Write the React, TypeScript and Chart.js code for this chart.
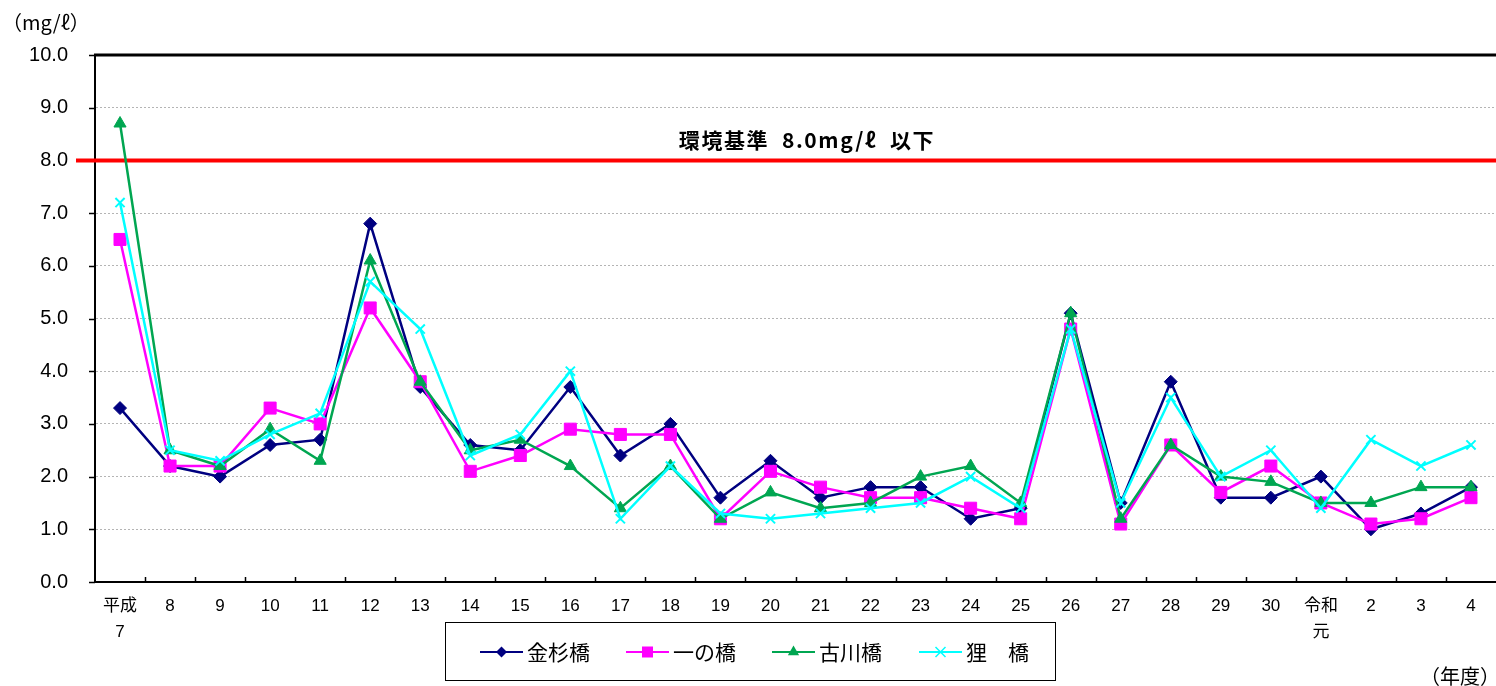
import React, { useEffect, useRef } from 'react';
import { Chart, registerables } from 'chart.js';

Chart.register(...registerables);

const FONT = "'Liberation Sans', 'Noto Sans CJK JP', sans-serif";
const CJK = "'Noto Sans CJK JP', 'Liberation Sans', sans-serif";

const categories: (string | string[])[] = [
  ['平成', '7'], '8', '9', '10', '11', '12', '13', '14', '15', '16', '17', '18', '19', '20',
  '21', '22', '23', '24', '25', '26', '27', '28', '29', '30', ['令和', '元'], '2', '3', '4',
];

const seriesNames = ['金杉橋', '一の橋', '古川橋', '狸　橋'];

const kanasugi = [3.3, 2.2, 2.0, 2.6, 2.7, 6.8, 3.7, 2.6, 2.5, 3.7, 2.4, 3.0, 1.6, 2.3, 1.6, 1.8, 1.8, 1.2, 1.4, 5.1, 1.5, 3.8, 1.6, 1.6, 2.0, 1.0, 1.3, 1.8];
const ichinohashi = [6.5, 2.2, 2.2, 3.3, 3.0, 5.2, 3.8, 2.1, 2.4, 2.9, 2.8, 2.8, 1.2, 2.1, 1.8, 1.6, 1.6, 1.4, 1.2, 4.8, 1.1, 2.6, 1.7, 2.2, 1.5, 1.1, 1.2, 1.6];
const furukawa = [8.7, 2.5, 2.2, 2.9, 2.3, 6.1, 3.8, 2.5, 2.7, 2.2, 1.4, 2.2, 1.2, 1.7, 1.4, 1.5, 2.0, 2.2, 1.5, 5.1, 1.2, 2.6, 2.0, 1.9, 1.5, 1.5, 1.8, 1.8];
const tanuki = [7.2, 2.5, 2.3, 2.8, 3.2, 5.7, 4.8, 2.4, 2.8, 4.0, 1.2, 2.2, 1.3, 1.2, 1.3, 1.4, 1.5, 2.0, 1.4, 4.8, 1.5, 3.5, 2.0, 2.5, 1.4, 2.7, 2.2, 2.6];

const standardValue = 8.0;
const standardLabel = '環境基準  8.0mg/ℓ  以下';
const unitLabel = '（mg/ℓ）';
const xUnitLabel = '（年度）';

const colors = ['#000080', '#FF00FF', '#00A651', '#00FFFF'];
const pointStyles = ['rectRot', 'rect', 'triangle', 'crossRot'];
const pointRadii = [6.5, 8.5, 7, 6.5];

function drawMarker(ctx: CanvasRenderingContext2D, style: string, x: number, y: number, color: string) {
  ctx.save();
  ctx.fillStyle = color;
  ctx.strokeStyle = color;
  ctx.beginPath();
  if (style === 'rectRot') {
    const r = 5.5;
    ctx.moveTo(x, y - r); ctx.lineTo(x + r, y); ctx.lineTo(x, y + r); ctx.lineTo(x - r, y); ctx.closePath();
    ctx.fill();
  } else if (style === 'rect') {
    ctx.rect(x - 5.5, y - 5.5, 11, 11);
    ctx.fill();
  } else if (style === 'triangle') {
    const r = 6.5;
    ctx.moveTo(x, y - r); ctx.lineTo(x + r * 0.866, y + r / 2); ctx.lineTo(x - r * 0.866, y + r / 2); ctx.closePath();
    ctx.fill();
  } else {
    const r = 5;
    ctx.lineWidth = 1.5;
    ctx.moveTo(x - r, y - r); ctx.lineTo(x + r, y + r);
    ctx.moveTo(x + r, y - r); ctx.lineTo(x - r, y + r);
    ctx.stroke();
  }
  ctx.restore();
}

const decor = {
  id: 'decor',
  beforeDatasetsDraw(chart: any) {
    const { ctx, chartArea: ca, scales } = chart;
    const x = scales.x;
    const y = scales.y;
    ctx.save();
    // top frame
    ctx.strokeStyle = '#000';
    ctx.lineWidth = 3;
    ctx.beginPath();
    ctx.moveTo(ca.left - 1, ca.top);
    ctx.lineTo(ca.right, ca.top);
    ctx.stroke();
    // y tick marks (outside)
    ctx.lineWidth = 1.5;
    ctx.beginPath();
    y.ticks.forEach((t: any) => {
      const py = Math.round(y.getPixelForValue(t.value)) + 0.5;
      ctx.moveTo(ca.left - 6, py);
      ctx.lineTo(ca.left, py);
    });
    // x tick marks (inside, between categories)
    for (let i = 1; i < categories.length; i++) {
      const px = Math.round((x.getPixelForTick(i - 1) + x.getPixelForTick(i)) / 2) + 0.5;
      ctx.moveTo(px, ca.bottom);
      ctx.lineTo(px, ca.bottom - 5);
    }
    ctx.stroke();
    // standard line
    const ry = y.getPixelForValue(standardValue);
    ctx.strokeStyle = '#FF0000';
    ctx.lineWidth = 4;
    ctx.beginPath();
    ctx.moveTo(76, ry);
    ctx.lineTo(ca.right, ry);
    ctx.stroke();
    ctx.fillStyle = '#000';
    ctx.font = `bold 21px ${CJK}`;
    ctx.textAlign = 'center';
    ctx.textBaseline = 'middle';
    try { (ctx as any).letterSpacing = '1.6px'; } catch (e) { /* ignore */ }
    ctx.fillText(standardLabel, 807, ry - 20);
    try { (ctx as any).letterSpacing = '0px'; } catch (e) { /* ignore */ }
    ctx.restore();
  },
  afterDraw(chart: any) {
    const { ctx } = chart;
    ctx.save();
    ctx.fillStyle = '#000';
    ctx.textBaseline = 'middle';
    ctx.textAlign = 'left';
    ctx.font = `20px ${CJK}`;
    ctx.fillText(unitLabel, 2, 22);
    ctx.fillText(xUnitLabel, 1420, 676);
    // legend box
    const bx = 445, by = 622, bw = 610, bh = 58;
    ctx.strokeStyle = '#000';
    ctx.lineWidth = 1;
    ctx.strokeRect(bx + 0.5, by + 0.5, bw, bh);
    const cy = by + bh / 2 + 1;
    const lineStarts = [480, 626, 772, 919];
    ctx.font = `21px ${CJK}`;
    seriesNames.forEach((name, i) => {
      const lx = lineStarts[i];
      ctx.strokeStyle = colors[i];
      ctx.lineWidth = 2;
      ctx.beginPath();
      ctx.moveTo(lx, cy);
      ctx.lineTo(lx + 43, cy);
      ctx.stroke();
      drawMarker(ctx, pointStyles[i], lx + 21.5, cy, colors[i]);
      ctx.fillStyle = '#000';
      ctx.fillText(name, lx + 47, cy);
    });
    ctx.restore();
  },
};

export default function App() {
  const ref = useRef<HTMLCanvasElement | null>(null);
  useEffect(() => {
    if (!ref.current) return;
    const dataSets = [kanasugi, ichinohashi, furukawa, tanuki];
    const chart = new Chart(ref.current, {
      type: 'line',
      data: {
        labels: categories as any,
        datasets: dataSets.map((d, i) => ({
          label: seriesNames[i],
          data: d,
          borderColor: colors[i],
          backgroundColor: colors[i],
          pointBackgroundColor: colors[i],
          pointBorderColor: colors[i],
          pointStyle: pointStyles[i] as any,
          pointRadius: pointRadii[i],
          pointBorderWidth: i === 3 ? 2 : 1,
          borderWidth: 2.5,
          tension: 0,
          fill: false,
          order: 3 - i,
        })),
      },
      options: {
        animation: false,
        responsive: false,
        maintainAspectRatio: false,
        layout: { autoPadding: false, padding: { top: 55, right: -2, left: 0, bottom: 0 } },
        plugins: {
          legend: { display: false },
          tooltip: { enabled: false },
          title: { display: false },
        },
        scales: {
          x: {
            type: 'category',
            offset: true,
            grid: { display: false, drawTicks: false },
            border: { display: true, color: '#000', width: 2 },
            ticks: {
              color: '#000',
              font: { size: 17, family: FONT, lineHeight: 1.53 },
              padding: 11,
              maxRotation: 0,
              autoSkip: false,
            },
            afterFit: (s: any) => { s.height = 104; s.paddingRight = 0; s.paddingLeft = 0; },
          },
          y: {
            min: 0,
            max: 10,
            ticks: {
              stepSize: 1,
              color: '#000',
              font: { size: 20, family: FONT },
              padding: 27,
              callback: (v: any) => Number(v).toFixed(1),
            },
            grid: { color: '#b4b4b4', lineWidth: 1, drawTicks: false },
            border: { display: true, color: '#000', width: 2, dash: [2, 2] },
            afterFit: (s: any) => { s.width = 95; },
          },
        },
      },
      plugins: [decor],
    });
    return () => chart.destroy();
  }, []);
  return (
    <div style={{ position: 'absolute', left: 0, top: 0, width: 1496, height: 686, background: '#fff' }}>
      <canvas ref={ref} width={1496} height={686} style={{ width: 1496, height: 686, display: 'block' }} />
    </div>
  );
}
